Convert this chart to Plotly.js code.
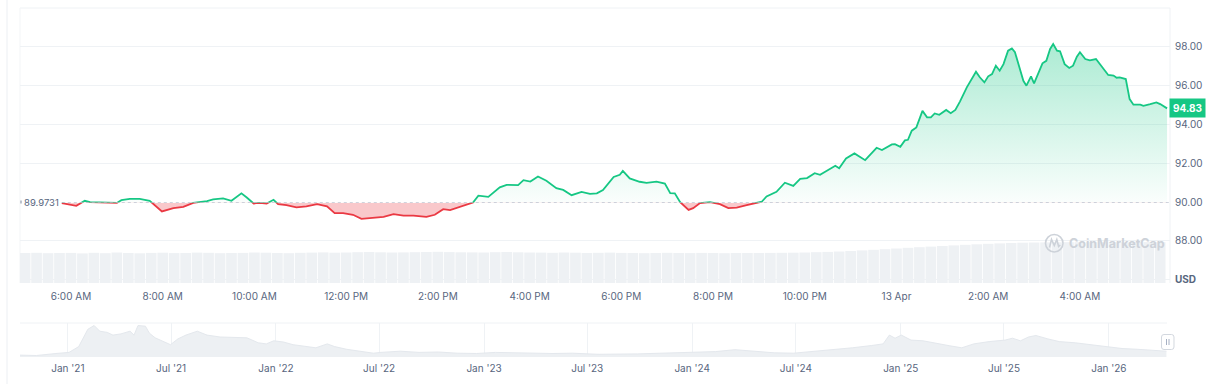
<!DOCTYPE html>
<html>
<head>
<meta charset="utf-8">
<script src="https://cdn.plot.ly/plotly-3.0.1.min.js"></script>
<style>
  html, body { margin: 0; padding: 0; background: #ffffff; }
  #chart { width: 1213px; height: 384px; }
</style>
</head>
<body>
<div id="chart"></div>
<script>
// ---------------- DATA ----------------
const openPrice = 89.9731;

const priceTimes = [
  '2026-04-12 05:48','2026-04-12 06:03','2026-04-12 06:07','2026-04-12 06:18','2026-04-12 06:25',
  '2026-04-12 07:00','2026-04-12 07:06','2026-04-12 07:17','2026-04-12 07:30','2026-04-12 07:43',
  '2026-04-12 07:59','2026-04-12 08:14','2026-04-12 08:27','2026-04-12 08:40','2026-04-12 08:58',
  '2026-04-12 09:06','2026-04-12 09:19','2026-04-12 09:30','2026-04-12 09:43','2026-04-12 09:50',
  '2026-04-12 09:59','2026-04-12 10:07','2026-04-12 10:16','2026-04-12 10:25','2026-04-12 10:31',
  '2026-04-12 10:42','2026-04-12 10:55','2026-04-12 11:08','2026-04-12 11:22','2026-04-12 11:35',
  '2026-04-12 11:45','2026-04-12 11:56','2026-04-12 12:09','2026-04-12 12:20','2026-04-12 12:35',
  '2026-04-12 12:49','2026-04-12 13:02','2026-04-12 13:15','2026-04-12 13:28','2026-04-12 13:45',
  '2026-04-12 13:56','2026-04-12 14:07','2026-04-12 14:16','2026-04-12 14:29','2026-04-12 14:42',
  '2026-04-12 14:46','2026-04-12 14:53','2026-04-12 15:06','2026-04-12 15:21','2026-04-12 15:30',
  '2026-04-12 15:45','2026-04-12 15:52','2026-04-12 16:01','2026-04-12 16:11','2026-04-12 16:22',
  '2026-04-12 16:35','2026-04-12 16:44','2026-04-12 16:55','2026-04-12 17:08','2026-04-12 17:19',
  '2026-04-12 17:28','2026-04-12 17:36','2026-04-12 17:50','2026-04-12 17:58','2026-04-12 18:02',
  '2026-04-12 18:11','2026-04-12 18:24','2026-04-12 18:33','2026-04-12 18:46','2026-04-12 18:57',
  '2026-04-12 19:04','2026-04-12 19:10','2026-04-12 19:17','2026-04-12 19:28','2026-04-12 19:34',
  '2026-04-12 19:43','2026-04-12 19:56','2026-04-12 20:09','2026-04-12 20:20','2026-04-12 20:31',
  '2026-04-12 20:44','2026-04-12 20:55','2026-04-12 21:04','2026-04-12 21:10','2026-04-12 21:23',
  '2026-04-12 21:34','2026-04-12 21:41','2026-04-12 21:45','2026-04-12 21:54','2026-04-12 22:03',
  '2026-04-12 22:13','2026-04-12 22:20','2026-04-12 22:40','2026-04-12 22:45','2026-04-12 22:54',
  '2026-04-12 23:05','2026-04-12 23:19','2026-04-12 23:34','2026-04-12 23:41','2026-04-12 23:54',
  '2026-04-12 23:58','2026-04-13 00:05','2026-04-13 00:11','2026-04-13 00:15','2026-04-13 00:20',
  '2026-04-13 00:26','2026-04-13 00:34','2026-04-13 00:40','2026-04-13 00:45','2026-04-13 00:50',
  '2026-04-13 00:56','2026-04-13 01:05','2026-04-13 01:11','2026-04-13 01:17','2026-04-13 01:23',
  '2026-04-13 01:32','2026-04-13 01:44','2026-04-13 01:49','2026-04-13 01:55','2026-04-13 02:00',
  '2026-04-13 02:05','2026-04-13 02:10','2026-04-13 02:15','2026-04-13 02:20','2026-04-13 02:26',
  '2026-04-13 02:31','2026-04-13 02:35','2026-04-13 02:42','2026-04-13 02:46','2026-04-13 02:50',
  '2026-04-13 02:56','2026-04-13 03:00','2026-04-13 03:06','2026-04-13 03:11','2026-04-13 03:16',
  '2026-04-13 03:21','2026-04-13 03:25','2026-04-13 03:30','2026-04-13 03:34','2026-04-13 03:40',
  '2026-04-13 03:46','2026-04-13 03:51','2026-04-13 03:56','2026-04-13 04:00','2026-04-13 04:07',
  '2026-04-13 04:13','2026-04-13 04:21','2026-04-13 04:29','2026-04-13 04:37','2026-04-13 04:44',
  '2026-04-13 04:48','2026-04-13 04:52','2026-04-13 05:00','2026-04-13 05:05','2026-04-13 05:10',
  '2026-04-13 05:19','2026-04-13 05:23','2026-04-13 05:32','2026-04-13 05:40','2026-04-13 05:45',
  '2026-04-13 05:51','2026-04-13 05:54'
];

const prices = [
  89.95, 89.86, 89.81, 90.07, 90.00,
  89.96, 90.10, 90.17, 90.17, 90.07,
  89.52, 89.69, 89.76, 89.96, 90.05,
  90.14, 90.19, 90.07, 90.45, 90.24,
  89.93, 89.96, 89.93, 90.12, 89.90,
  89.85, 89.73, 89.78, 89.90, 89.78,
  89.43, 89.43, 89.35, 89.14, 89.18,
  89.24, 89.38, 89.31, 89.31, 89.24,
  89.35, 89.64, 89.59, 89.76, 89.96,
  89.98, 90.33, 90.27, 90.76, 90.89,
  90.88, 91.13, 91.06, 91.32, 91.10,
  90.72, 90.63, 90.36, 90.53, 90.43,
  90.45, 90.62, 91.30, 91.41, 91.61,
  91.22, 91.05, 90.99, 91.06, 90.96,
  90.46, 90.45, 90.00, 89.60, 89.69,
  89.95, 90.00, 89.90, 89.69, 89.72,
  89.85, 89.96, 90.03, 90.29, 90.53,
  91.00, 90.90, 90.84, 91.20, 91.24,
  91.49, 91.41, 91.87, 91.75, 92.25,
  92.51, 92.16, 92.80, 92.68, 92.97,
  92.99, 92.85, 93.18, 93.21, 93.68,
  93.85, 94.70, 94.37, 94.37, 94.57,
  94.50, 94.75, 94.58, 94.75, 95.18,
  95.91, 96.72, 96.43, 96.17, 96.48,
  96.60, 97.03, 96.77, 97.11, 97.80,
  97.92, 97.72, 96.69, 96.25, 96.00,
  96.48, 96.12, 96.65, 97.15, 97.28,
  97.89, 98.14, 97.80, 97.77, 97.11,
  96.91, 97.03, 97.49, 97.72, 97.37,
  97.30, 97.37, 96.94, 96.55, 96.52,
  96.41, 96.43, 96.34, 95.31, 95.02,
  95.02, 94.96, 95.05, 95.14, 95.05,
  94.93, 94.83
];

// volume bars (15-minute bars, billions USD)
const volDay1 = ['05:00','05:15','05:30','05:45','06:00','06:15','06:30','06:45','07:00','07:15','07:30','07:45',
  '08:00','08:15','08:30','08:45','09:00','09:15','09:30','09:45','10:00','10:15','10:30','10:45',
  '11:00','11:15','11:30','11:45','12:00','12:15','12:30','12:45','13:00','13:15','13:30','13:45',
  '14:00','14:15','14:30','14:45','15:00','15:15','15:30','15:45','16:00','16:15','16:30','16:45',
  '17:00','17:15','17:30','17:45','18:00','18:15','18:30','18:45','19:00','19:15','19:30','19:45',
  '20:00','20:15','20:30','20:45','21:00','21:15','21:30','21:45','22:00','22:15','22:30','22:45',
  '23:00','23:15','23:30','23:45'];
const volDay2 = ['00:00','00:15','00:30','00:45','01:00','01:15','01:30','01:45','02:00','02:15','02:30','02:45',
  '03:00','03:15','03:30','03:45','04:00','04:15','04:30','04:45','05:00','05:15','05:30','05:45'];
const volumes = [
  3.00,3.02,2.98,3.00,3.01,2.96,3.02,2.98,3.05,3.00,2.97,3.01,3.03,2.99,3.00,3.04,
  3.02,2.98,3.00,3.01,3.05,3.03,3.00,2.98,3.02,3.04,3.06,3.03,3.05,3.08,3.10,3.07,
  3.05,3.06,3.08,3.10,3.12,3.09,3.07,3.06,3.05,3.08,3.10,3.07,3.05,3.04,3.02,3.05,
  3.03,3.00,3.02,3.04,3.01,3.00,2.98,3.00,3.02,3.00,2.99,3.01,3.00,2.98,3.00,3.00,
  3.00,3.01,3.02,3.03,3.05,3.08,3.11,3.15,3.20,3.26,3.32,3.38,3.45,3.52,3.58,3.64,
  3.70,3.76,3.82,3.87,3.92,3.96,4.00,4.03,4.05,4.06,4.07,4.08,4.08,4.09,4.08,4.08,
  4.07,4.08,4.09,4.08
];

// navigator (history overview)
const navDates = [
  '2020-10-08','2020-11-07','2020-12-11','2021-01-03','2021-01-20','2021-02-05','2021-02-16','2021-02-26',
  '2021-03-11','2021-03-21','2021-04-04','2021-04-20','2021-04-27','2021-05-04','2021-05-17','2021-05-24',
  '2021-06-03','2021-06-16','2021-06-30','2021-07-13','2021-07-27','2021-08-16','2021-09-02','2021-09-25',
  '2021-10-22','2021-11-11','2021-12-01','2021-12-15','2021-12-28','2022-01-14','2022-01-31','2022-02-20',
  '2022-03-12','2022-04-01','2022-04-14','2022-05-05','2022-06-01','2022-06-21','2022-07-04','2022-08-07',
  '2022-09-09','2022-10-13','2022-11-15','2022-12-19','2023-01-21','2023-02-24','2023-03-30','2023-05-02',
  '2023-06-05','2023-07-08','2023-07-20','2023-09-27','2023-12-04','2024-02-11','2024-03-16','2024-04-20',
  '2024-05-24','2024-06-27','2024-07-31','2024-09-04','2024-10-08','2024-11-11','2024-12-01','2024-12-12',
  '2024-12-22','2025-01-02','2025-01-19','2025-02-09','2025-03-01','2025-03-28','2025-04-18','2025-05-09',
  '2025-06-05','2025-07-03','2025-07-16','2025-07-30','2025-08-13','2025-08-26','2025-09-16','2025-10-06',
  '2025-11-03','2025-11-30','2025-12-28','2026-01-24','2026-02-21','2026-03-20','2026-04-12'
];
const navValues = [
  1.9,1.5,3.5,4.6,10.4,27.7,31.5,25.8,
  24.6,21.9,23.1,25.8,21.9,31.5,30.8,23.8,
  19.2,16.2,12.3,18.1,21.9,25.8,21.9,20.0,
  19.2,19.2,14.2,13.1,16.2,15.0,12.3,10.4,
  9.2,13.1,10.4,7.7,5.4,3.8,4.6,5.8,
  4.6,5.0,3.8,3.5,4.6,4.2,3.8,3.5,
  3.8,3.5,2.7,3.1,4.6,5.4,7.3,5.8,
  4.2,3.8,5.4,7.7,9.2,11.5,13.1,21.9,
  18.8,21.9,16.9,16.2,13.8,11.2,9.2,13.1,
  15.4,16.9,18.8,16.2,20.0,21.5,18.1,15.4,
  14.2,12.3,10.4,8.5,7.7,6.5,5.8
];

const mainTickVals = ['2026-04-12 06:00','2026-04-12 08:00','2026-04-12 10:00','2026-04-12 12:00','2026-04-12 14:00',
  '2026-04-12 16:00','2026-04-12 18:00','2026-04-12 20:00','2026-04-12 22:00','2026-04-13 00:00',
  '2026-04-13 02:00','2026-04-13 04:00'];
const mainTickText = ['6:00 AM','8:00 AM','10:00 AM','12:00 PM','2:00 PM','4:00 PM','6:00 PM','8:00 PM',
  '10:00 PM','13 Apr','2:00 AM','4:00 AM'];
const priceTickVals = [90, 92, 94, 96, 98];
const priceTickText = ['90.00','92.00','94.00','96.00','98.00'];
const lowTickVals = [86, 88];
const lowTickText = ['<b>USD</b>', '88.00'];
const navTickVals = ['2021-01-01','2021-07-01','2022-01-01','2022-07-01','2023-01-01','2023-07-01',
  '2024-01-01','2024-07-01','2025-01-01','2025-07-01','2026-01-01'];
const navTickText = ["Jan '21","Jul '21","Jan '22","Jul '22","Jan '23","Jul '23",
  "Jan '24","Jul '24","Jan '25","Jul '25","Jan '26"];

// ---------------- LAYOUT HELPERS ----------------
const W = 1213, H = 384;
const px = v => v / W;
const py = v => 1 - v / H;
// build a paper-referenced SVG path from pixel-space commands
const P = (cmds) => cmds.map(c => c[0] + ' ' + c.slice(1).map((v, i) => (i % 2 === 0 ? px(v) : py(v)).toFixed(6)).join(',')).join(' ') ;

const FONT = 'Inter, "Noto Sans", "DejaVu Sans", sans-serif';
const GREEN = '#16c784', RED = '#ea3943', GRID = '#eff2f5', TXT = '#58667e';

const yMin = 85.835, yMax = 100.0;
const plotTop = py(8), plotBot = py(283);
const fB = plotBot + (plotTop - plotBot) * (openPrice - yMin) / (yMax - yMin);
const xRange = ['2026-04-12 04:53:20', '2026-04-13 05:57:50'];
const volTimes = volDay1.map(t => '2026-04-12 ' + t).concat(volDay2.map(t => '2026-04-13 ' + t));
const lastT = priceTimes[priceTimes.length - 1];
const lastP = prices[prices.length - 1];

const traces = [
  { // volume
    type: 'bar', x: volTimes, y: volumes, xaxis: 'x', yaxis: 'y3',
    marker: { color: '#eef1f4', line: { width: 0 } }, hoverinfo: 'skip'
  },
  { // green part (above open)
    type: 'scatter', mode: 'lines', x: priceTimes, y: prices, xaxis: 'x', yaxis: 'y',
    line: { color: GREEN, width: 1.8 }, fill: 'tozeroy',
    fillgradient: { type: 'vertical', start: openPrice, stop: 98.2,
      colorscale: [[0, 'rgba(22,199,132,0.02)'], [1, 'rgba(22,199,132,0.36)']] },
    hoverinfo: 'skip'
  },
  { // baseline helper for red fill
    type: 'scatter', mode: 'lines', x: [priceTimes[0], lastT], y: [openPrice, openPrice],
    xaxis: 'x', yaxis: 'y2', line: { width: 0, color: 'rgba(0,0,0,0)' }, hoverinfo: 'skip'
  },
  { // red part (below open)
    type: 'scatter', mode: 'lines', x: priceTimes, y: prices, xaxis: 'x', yaxis: 'y2',
    line: { color: RED, width: 1.8 }, fill: 'tonexty', fillcolor: 'rgba(234,57,67,0.28)',
    hoverinfo: 'skip'
  },
  { // navigator
    type: 'scatter', mode: 'lines', x: navDates, y: navValues, xaxis: 'x2', yaxis: 'y4',
    line: { color: '#e4e8ed', width: 1 }, fill: 'tozeroy', fillcolor: '#edf0f3', hoverinfo: 'skip'
  }
];

const tickFont = { family: FONT, size: 10, color: TXT };

const layout = {
  width: W, height: H,
  margin: { l: 0, r: 0, t: 0, b: 0, pad: 0 },
  paper_bgcolor: '#ffffff', plot_bgcolor: 'rgba(0,0,0,0)',
  showlegend: false, bargap: 0.07,
  font: { family: FONT, color: TXT },
  xaxis: {
    domain: [px(20), px(1170)], range: xRange, type: 'date',
    anchor: 'free', position: plotBot,
    tickmode: 'array', tickvals: mainTickVals, ticktext: mainTickText,
    showgrid: false, zeroline: false, showline: false, ticks: '',
    tickfont: tickFont, ticklabelstandoff: 6, fixedrange: true
  },
  yaxis: {
    domain: [fB, plotTop], range: [openPrice, yMax], anchor: 'x', side: 'right',
    tickmode: 'array', tickvals: priceTickVals, ticktext: priceTickText,
    showgrid: true, gridcolor: GRID, gridwidth: 1, zeroline: false, showline: false, ticks: '',
    tickfont: tickFont, ticklabelstandoff: 4, fixedrange: true
  },
  yaxis2: {
    domain: [plotBot, fB], range: [yMin, openPrice], anchor: 'x', side: 'right',
    tickmode: 'array', tickvals: lowTickVals, ticktext: lowTickText,
    showgrid: true, gridcolor: GRID, gridwidth: 1, zeroline: false, showline: false, ticks: '',
    tickfont: tickFont, ticklabelstandoff: 4, fixedrange: true
  },
  yaxis3: {
    domain: [plotBot, plotTop], range: [0, 27.5], anchor: 'x', visible: false, fixedrange: true
  },
  xaxis2: {
    domain: [px(20), px(1167)], range: ['2020-10-09', '2026-04-13'], type: 'date', anchor: 'y4',
    tickmode: 'array', tickvals: navTickVals, ticktext: navTickText,
    showgrid: true, gridcolor: GRID, zeroline: false, showline: false, ticks: '',
    tickfont: { family: FONT, size: 10, color: TXT }, ticklabelstandoff: 4, fixedrange: true
  },
  yaxis4: {
    domain: [py(357), py(323)], range: [0, 34], anchor: 'x2', visible: false, fixedrange: true
  },
  shapes: [
    // outer container edge
    { type: 'line', xref: 'paper', yref: 'paper', x0: px(7), x1: px(7), y0: 0, y1: 1,
      line: { color: '#eceff3', width: 1 }, layer: 'below' },
    // plot frame: top, left, right
    { type: 'line', xref: 'paper', yref: 'paper', x0: px(20), x1: px(1170), y0: plotTop, y1: plotTop,
      line: { color: GRID, width: 1 }, layer: 'below' },
    { type: 'line', xref: 'paper', yref: 'paper', x0: px(20), x1: px(20), y0: plotBot, y1: plotTop,
      line: { color: '#f3f5f7', width: 1 }, layer: 'below' },
    { type: 'line', xref: 'paper', yref: 'paper', x0: px(1170), x1: px(1170), y0: plotBot, y1: plotTop,
      line: { color: GRID, width: 1 }, layer: 'below' },
    // open-price dotted line
    { type: 'line', xref: 'x', yref: 'y', x0: priceTimes[0], x1: xRange[1], y0: openPrice, y1: openPrice,
      line: { color: '#b4bccb', width: 1, dash: 'dot' } },
    // small marker at left of open label
    { type: 'line', xref: 'paper', yref: 'paper', x0: px(21), x1: px(21), y0: py(200.5), y1: py(203.5),
      line: { color: '#7f8a9e', width: 1 } },
    // navigator box top
    { type: 'line', xref: 'paper', yref: 'paper', x0: px(20), x1: px(1167), y0: py(323), y1: py(323),
      line: { color: GRID, width: 1 }, layer: 'below' },
    // navigator handle
    { type: 'path', xref: 'paper', yref: 'paper',
      path: P([['M',1161.5,337],['Q',1161.5,334.5,1164,334.5],['L',1171.5,334.5],['Q',1174,334.5,1174,337],
               ['L',1174,347],['Q',1174,349.5,1171.5,349.5],['L',1164,349.5],['Q',1161.5,349.5,1161.5,347],['Z']]),
      fillcolor: '#ffffff', line: { color: '#d3d8df', width: 1 } },
    { type: 'line', xref: 'paper', yref: 'paper', x0: px(1166.5), x1: px(1166.5), y0: py(339), y1: py(345),
      line: { color: '#a6b0c3', width: 1 } },
    { type: 'line', xref: 'paper', yref: 'paper', x0: px(1169), x1: px(1169), y0: py(339), y1: py(345),
      line: { color: '#a6b0c3', width: 1 } },
    // watermark logo
    { type: 'circle', xref: 'paper', yref: 'paper', x0: px(1045.5), x1: px(1063), y0: py(234.5), y1: py(252),
      line: { color: '#cdd2d9', width: 1.6 }, fillcolor: 'rgba(0,0,0,0)' },
    { type: 'path', xref: 'paper', yref: 'paper',
      path: P([['M',1049.5,247.5],['L',1051.5,239.5],['L',1054.3,245.5],['L',1056.8,239.5],['L',1058.6,246.5],['L',1060.3,245]]),
      line: { color: '#cdd2d9', width: 1.6 } }
  ],
  annotations: [
    { xref: 'x', yref: 'y', x: priceTimes[0], y: openPrice, text: String(openPrice),
      xanchor: 'right', yanchor: 'middle', xshift: -1, showarrow: false,
      font: { family: FONT, size: 9.5, color: TXT } },
    { xref: 'paper', yref: 'y', x: px(1169), y: lastP, text: '<b>' + lastP.toFixed(2) + '</b>',
      xanchor: 'left', yanchor: 'middle', showarrow: false, bgcolor: GREEN, borderpad: 3,
      font: { family: FONT, size: 10, color: '#ffffff' } },
    { xref: 'paper', yref: 'paper', x: px(1067), y: py(243.5), text: '<b>CoinMarketCap</b>',
      xanchor: 'left', yanchor: 'middle', showarrow: false,
      font: { family: FONT, size: 12.5, color: '#cdd2d9' } }
  ]
};

Plotly.newPlot('chart', traces, layout, { displayModeBar: false, staticPlot: true });
</script>
</body>
</html>
